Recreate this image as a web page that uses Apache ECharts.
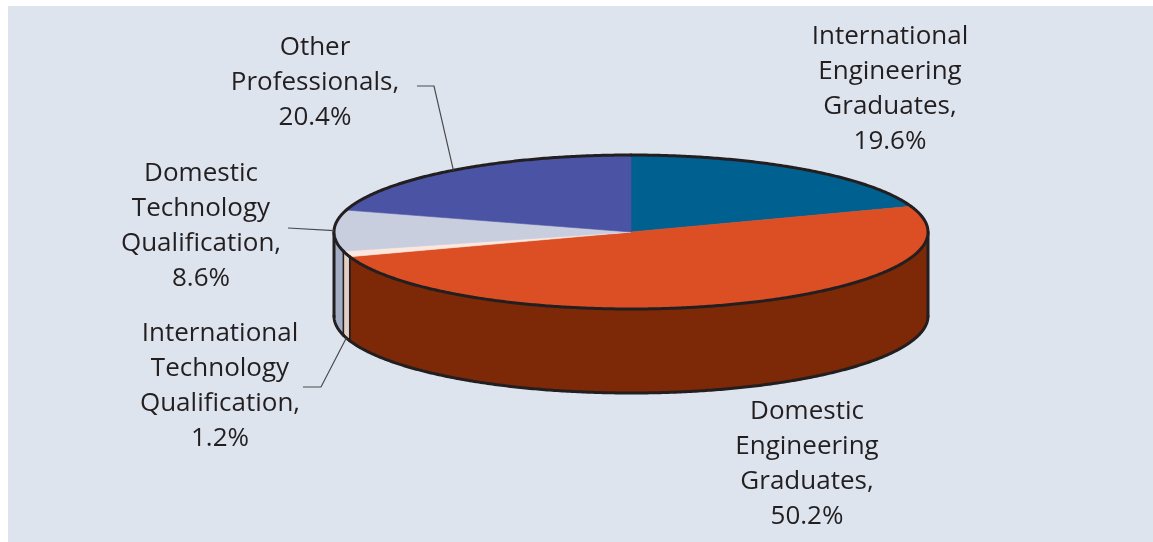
<!DOCTYPE html>
<html><head><meta charset="utf-8">
<script src="https://cdn.jsdelivr.net/npm/echarts@6/dist/echarts.min.js"></script>
<style>html,body{margin:0;padding:0;background:#fff}#c{width:1153px;height:542px}</style>
</head><body><div id="c"></div>
<script>
// ---- data ----
const categories = [
  "International\nEngineering\nGraduates",
  "Domestic\nEngineering\nGraduates",
  "International\nTechnology\nQualification",
  "Domestic\nTechnology\nQualification",
  "Other\nProfessionals"
];
const shares = [19.6, 50.2, 1.2, 8.6, 20.4];

// ---- styling / layout ----
const topColors  = ["#00608f", "#dc4f25", "#fbe7dd", "#c8cede", "#4b54a4"];
const sideColors = ["#003f5e", "#7d2806", "#e3cfc6", "#a3adc3", "#2f3670"];
const labelPos = [[890, 89], [807, 464], [220, 386], [201, 226], [315, 83]];
const leaderFrom = [null, null, "bottom", "top", "top"];
const leaderBends = [null, null, [[321, 387], [303, 387]], [[288, 228]], [[434, 86], [417, 86]]];
const G = { cx: 631, cy: 232, rx: 297, ry: 77, depth: 84 };
const INK = "#231f20";

const total = shares.reduce((a, b) => a + b, 0);
let run = 0;
const seriesData = shares.map(v => { const d = [v, run]; run += v; return d; });

function pt(a, dy) {
  const r = a * Math.PI / 180;
  return [G.cx + G.rx * Math.cos(r), G.cy - G.ry * Math.sin(r) + (dy || 0)];
}
function arc(a0, a1, dy) {
  const n = Math.max(2, Math.ceil(Math.abs(a0 - a1) / 0.5) + 1);
  const pts = [];
  for (let k = 0; k < n; k++) pts.push(pt(a0 + (a1 - a0) * k / (n - 1), dy));
  return pts;
}

function renderItem(params, api) {
  const i = params.dataIndex;
  const v = api.value(0), cum = api.value(1);
  const a0 = 90 - 360 * cum / total;
  const a1 = a0 - 360 * v / total;
  const ch = [];
  // front wall
  const w0 = Math.min(a0, 0), w1 = Math.max(a1, -180);
  if (w0 > w1) {
    ch.push({ type: 'polygon', z2: 1,
      shape: { points: arc(w0, w1, 0).concat(arc(w1, w0, G.depth)) },
      style: { fill: sideColors[i], stroke: INK, lineWidth: 1.5 } });
    ch.push({ type: 'polyline', z2: 2, shape: { points: arc(w0, w1, G.depth) },
      style: { fill: null, stroke: INK, lineWidth: 3, lineCap: 'round' } });
    if (w0 === 0) ch.push({ type: 'polyline', z2: 2, shape: { points: [pt(0, 0), pt(0, G.depth)] },
      style: { fill: null, stroke: INK, lineWidth: 3, lineCap: 'round' } });
    if (w1 === -180) ch.push({ type: 'polyline', z2: 2, shape: { points: [pt(-180, 0), pt(-180, G.depth)] },
      style: { fill: null, stroke: INK, lineWidth: 3, lineCap: 'round' } });
  }
  // top face
  ch.push({ type: 'polygon', z2: 5,
    shape: { points: [[G.cx, G.cy]].concat(arc(a0, a1, 0)) },
    style: { fill: topColors[i], stroke: topColors[i], lineWidth: 0.6 } });
  ch.push({ type: 'polyline', z2: 6, shape: { points: arc(a0, a1, 0) },
    style: { fill: null, stroke: INK, lineWidth: 3, lineCap: 'round' } });
  // leader line
  if (leaderFrom[i]) {
    const am = (a0 + a1) / 2;
    const start = pt(am, leaderFrom[i] === 'bottom' ? G.depth : 0);
    ch.push({ type: 'polyline', z2: 7, shape: { points: [start].concat(leaderBends[i]) },
      style: { fill: null, stroke: '#4a4a4a', lineWidth: 1.2 } });
  }
  // label
  ch.push({ type: 'text', z2: 8, x: labelPos[i][0], y: labelPos[i][1],
    style: { text: categories[i] + ",\n" + v.toFixed(1) + "%", fill: INK,
      fontSize: 26, fontFamily: 'Open Sans', align: 'center', verticalAlign: 'middle', lineHeight: 35 } });
  return { type: 'group', children: ch };
}

const chart = echarts.init(document.getElementById('c'), null, { renderer: 'canvas' });
chart.setOption({
  animation: false,
  backgroundColor: '#ffffff',
  graphic: [{ type: 'rect', left: 8, top: 6, z: -1,
    shape: { width: 1145, height: 536 }, style: { fill: '#dee4ee' } }],
  series: [{ type: 'custom', coordinateSystem: 'none', renderItem: renderItem, data: seriesData, clip: false }]
});
</script></body></html>
